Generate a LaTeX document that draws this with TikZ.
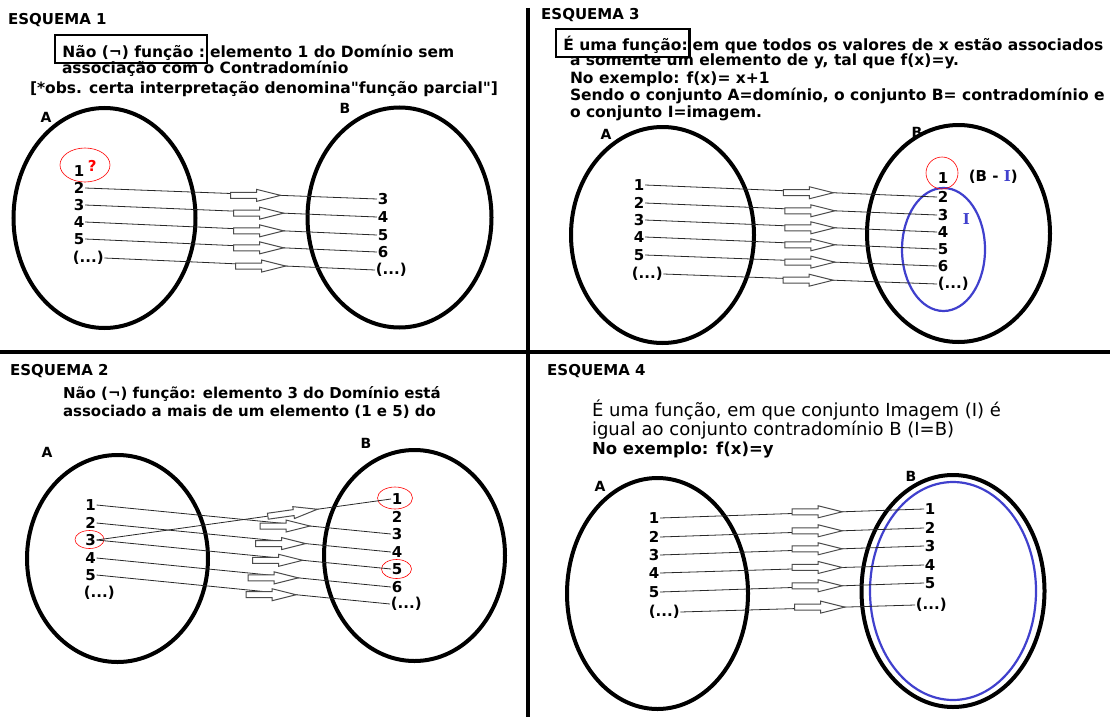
\documentclass[tikz,border=0pt]{standalone}
\usepackage{fontspec}
\setmainfont{DejaVu Sans}
\newfontfamily\vf{DejaVu Sans}
\newfontfamily\serifI{DejaVu Serif}
\usetikzlibrary{calc,shapes.geometric}
\definecolor{iblue}{RGB}{64,64,205}
\definecolor{lnc}{RGB}{40,40,40}
\tikzset{
  barrow/.pic={\draw[draw=black!70, fill=white, line width=1, line join=miter]
     (0,0) -- (-24,-6) -- (-24,-3) -- (-50,-3) -- (-50,3) -- (-24,3) -- (-24,6) -- cycle;}
}
\begin{document}
\begin{tikzpicture}[x=1pt,y=-1pt,
  txt/.style={font=\vf\fontsize{15.5}{17}\selectfont\bfseries, inner sep=0, outer sep=0, anchor=base west},
  txtb/.style={font=\vf\fontsize{15}{17}\selectfont\bfseries, inner sep=0, outer sep=0, anchor=base west},
  rtxt/.style={font=\vf\fontsize{18}{19}\selectfont, inner sep=0, outer sep=0, anchor=base west},
  txtc/.style={font=\vf\fontsize{16.5}{19}\selectfont\bfseries, inner sep=0, outer sep=0, anchor=base west},
  head/.style={font=\vf\fontsize{15}{16}\selectfont\bfseries, inner sep=0, anchor=base west},
  boxed/.style={txt, draw, line width=2.5, inner xsep=2, inner ysep=2.5, text height=19.5, text depth=3.5},
  lbl/.style={font=\vf\fontsize{15}{17}\selectfont\bfseries, inner sep=0.6, anchor=west},
  setname/.style={font=\vf\fontsize{14}{16}\selectfont\bfseries, inner sep=0},
  setell/.style={ellipse, draw, line width=4, inner sep=0},
  conn/.style={draw=lnc, line width=0.8},
  redmark/.style={ellipse, draw=red, line width=0.6, inner sep=0},
  blueset/.style={ellipse, draw=iblue, line width=2.2, inner sep=0},
  divider/.style={line width=4}
]
\useasboundingbox (0,0) rectangle (1110,717);
\fill[white] (0,0) rectangle (1110,717);

% dividers
\draw[divider] (528,8) -- (528,717);
\draw[divider] (0,352) -- (1110,352);

% ================= ESQUEMA 1 =================
\node[head] (q1h) at (8,25) {ESQUEMA 1};
\node[boxed] (q1box) at (55,57) {\ Não (¬) função :};
\node[txt] (q1t1) at ([xshift=3]q1box.base east) {elemento 1 do Domínio sem};
\node[txt] (q1t2) at (62,74) {associação com o Contradomínio};
\node[txt] (q1t3) at (30,93) {[*obs. certa interpretação denomina"função parcial"]};
\node[setname] (q1nA) at (46,117) {A};
\node[setname] (q1nB) at (345,108) {B};
\node[setell, minimum width=182, minimum height=220] (q1A) at (104.5,218) {};
\node[setell, minimum width=184, minimum height=220] (q1B) at (399.5,217.5) {};
\node[lbl] (q1a1) at (73,171) {1};
\node[lbl, text=red] (q1q) at (87,166) {?};
\node[redmark, minimum width=50, minimum height=34] (q1r) at (85,165) {};
\node[lbl] (q1a2) at (73,188) {2};
\node[lbl] (q1a3) at (73,205) {3};
\node[lbl] (q1a4) at (73,222) {4};
\node[lbl] (q1a5) at (73,239) {5};
\node[lbl] (q1a6) at (72,258) {(...)};
\node[lbl] (q1b1) at (377,199) {3};
\node[lbl] (q1b2) at (377,217) {4};
\node[lbl] (q1b3) at (377,235) {5};
\node[lbl] (q1b4) at (377,252) {6};
\node[lbl] (q1b5) at (375,270) {(...)};
\draw[conn] (q1a2.east) -- (q1b1.west);
\draw[conn] (q1a3.east) -- (q1b2.west);
\draw[conn] (q1a4.east) -- (q1b3.west);
\draw[conn] (q1a5.east) -- (q1b4.west);
\draw[conn] (q1a6.east) -- (q1b5.west);
\pic at ($(q1a2.east)!0.67!(q1b1.west)$) {barrow};
\pic at ($(q1a3.east)!0.68!(q1b2.west)$) {barrow};
\pic at ($(q1a4.east)!0.68!(q1b3.west)$) {barrow};
\pic at ($(q1a5.east)!0.68!(q1b4.west)$) {barrow};
\pic at ($(q1a6.east)!0.67!(q1b5.west)$) {barrow};

% ================= ESQUEMA 2 =================
\node[head] (q2h) at (10,375) {ESQUEMA 2};
\node[txtb] (q2t1) at (63,398) {Não (¬) função: elemento 3 do Domínio está};
\node[txtb] (q2t2) at (63,416) {associado a mais de um elemento (1 e 5) do};
\node[setname] (q2nA) at (47,452) {A};
\node[setname] (q2nB) at (366,443) {B};
\node[setell, minimum width=181, minimum height=207] (q2A) at (117.5,558.5) {};
\node[setell, minimum width=181, minimum height=211] (q2B) at (414.5,555.5) {};
\node[lbl] (q2a1) at (84.5,505) {1};
\node[lbl] (q2a2) at (84.5,523) {2};
\node[lbl] (q2a3) at (84.5,540) {3};
\node[lbl] (q2a4) at (84.5,558) {4};
\node[lbl] (q2a5) at (84.5,575) {5};
\node[lbl] (q2a6) at (83,593) {(...)};
\node[lbl] (q2b1) at (391,499) {1};
\node[lbl] (q2b2) at (391,517) {2};
\node[lbl] (q2b3) at (391,534) {3};
\node[lbl] (q2b4) at (391,552) {4};
\node[lbl] (q2b5) at (391,569) {5};
\node[lbl] (q2b6) at (391,587) {6};
\node[lbl] (q2b7) at (390,604) {(...)};
\node[redmark, minimum width=29, minimum height=18] (q2ra) at (89.5,539.5) {};
\node[redmark, minimum width=35, minimum height=22] (q2rb1) at (395,498) {};
\node[redmark, minimum width=30, minimum height=19] (q2rb5) at (396.5,569) {};
\draw[conn] (q2a1.east) -- (q2b3.west);
\draw[conn] (q2a2.east) -- (q2b4.west);
\draw[conn] (q2a3.east) -- (q2b1.west);
\draw[conn] (q2a3.east) -- (q2b5.west);
\draw[conn] (q2a4.east) -- (q2b6.west);
\draw[conn] (q2a5.east) -- (q2b7.west);
\pic[rotate=8] at ($(q2a3.east)!0.75!(q2b1.west)$) {barrow};
\pic at ($(q2a1.east)!0.725!(q2b3.west)$) {barrow};
\pic at ($(q2a2.east)!0.71!(q2b4.west)$) {barrow};
\pic at ($(q2a3.east)!0.70!(q2b5.west)$) {barrow};
\pic at ($(q2a4.east)!0.685!(q2b6.west)$) {barrow};
\pic at ($(q2a5.east)!0.68!(q2b7.west)$) {barrow};

% ================= ESQUEMA 3 =================
\node[head] (q3h) at (541,20) {ESQUEMA 3};
\node[boxed] (q3box) at (556,51) {\ É uma função:};
\node[txt] (q3t1) at ([xshift=3]q3box.base east) {em que todos os valores de x estão associados};
\node[txt] (q3t2) at (570,66) {a somente um elemento de y, tal que f(x)=y.};
\node[txt] (q3t3) at (570,83) {No exemplo: f(x)= x+1};
\node[txt] (q3t4) at (570,100) {Sendo o conjunto A=domínio, o conjunto B= contradomínio e};
\node[txt] (q3t5) at (570,117) {o conjunto I=imagem.};
\node[setname] (q3nA) at (606,134) {A};
\node[setname] (q3nB) at (917,132) {B};
\node[setell, minimum width=183, minimum height=216] (q3A) at (662.5,235) {};
\node[setell, minimum width=183, minimum height=217] (q3B) at (958.5,233.5) {};
\node[blueset, minimum width=83, minimum height=123] (q3I) at (943.5,249.5) {};
\node[lbl, text=iblue] (q3Il) at (962,219) {\serifI I};
\node[lbl] (q3a1) at (633,185) {1};
\node[lbl] (q3a2) at (633,203) {2};
\node[lbl] (q3a3) at (633,220) {3};
\node[lbl] (q3a4) at (633,237) {4};
\node[lbl] (q3a5) at (633,255) {5};
\node[lbl] (q3a6) at (631,274) {(...)};
\node[lbl] (q3b1) at (937,178) {1};
\node[circle, draw=red, line width=0.6, minimum size=32, inner sep=0] (q3r) at (942,173) {};
\node[lbl] (q3bi) at (968,177) {(B - {\color{iblue}\serifI I})};
\node[lbl] (q3b2) at (937,197) {2};
\node[lbl] (q3b3) at (937,215) {3};
\node[lbl] (q3b4) at (937,232) {4};
\node[lbl] (q3b5) at (937,249) {5};
\node[lbl] (q3b6) at (937,266) {6};
\node[lbl] (q3b7) at (937,284) {(...)};
\draw[conn] (q3a1.east) -- (q3b2.west);
\draw[conn] (q3a2.east) -- (q3b3.west);
\draw[conn] (q3a3.east) -- (q3b4.west);
\draw[conn] (q3a4.east) -- (q3b5.west);
\draw[conn] (q3a5.east) -- (q3b6.west);
\draw[conn] (q3a6.east) -- (q3b7.west);
\pic at ($(q3a1.east)!0.645!(q3b2.west)$) {barrow};
\pic at ($(q3a2.east)!0.65!(q3b3.west)$) {barrow};
\pic at ($(q3a3.east)!0.65!(q3b4.west)$) {barrow};
\pic at ($(q3a4.east)!0.65!(q3b5.west)$) {barrow};
\pic at ($(q3a5.east)!0.65!(q3b6.west)$) {barrow};
\pic at ($(q3a6.east)!0.62!(q3b7.west)$) {barrow};

% ================= ESQUEMA 4 =================
\node[head] (q4h) at (547,375) {ESQUEMA 4};
\node[rtxt] (q4t1) at (592,416) {É uma função, em que conjunto Imagem (I) é};
\node[rtxt] (q4t2) at (592,435) {igual ao conjunto contradomínio B (I=B)};
\node[txtc] (q4t3) at (592,454) {No exemplo: f(x)=y};
\node[setname] (q4nA) at (600,486) {A};
\node[setname] (q4nB) at (911,476) {B};
\node[setell, minimum width=181, minimum height=231] (q4A) at (657.5,593.5) {};
\node[setell, minimum width=183, minimum height=232] (q4B) at (953,591) {};
\node[blueset, minimum width=166, minimum height=218] (q4I) at (953,591) {};
\node[lbl] (q4a1) at (648,518) {1};
\node[lbl] (q4a2) at (648,537) {2};
\node[lbl] (q4a3) at (648,555) {3};
\node[lbl] (q4a4) at (648,573) {4};
\node[lbl] (q4a5) at (648,592) {5};
\node[lbl] (q4a6) at (648,612) {(...)};
\node[lbl] (q4b1) at (924,509) {1};
\node[lbl] (q4b2) at (924,528) {2};
\node[lbl] (q4b3) at (924,546) {3};
\node[lbl] (q4b4) at (924,565) {4};
\node[lbl] (q4b5) at (924,583) {5};
\node[lbl] (q4b6) at (915,605) {(...)};
\draw[conn] (q4a1.east) -- (q4b1.west);
\draw[conn] (q4a2.east) -- (q4b2.west);
\draw[conn] (q4a3.east) -- (q4b3.west);
\draw[conn] (q4a4.east) -- (q4b4.west);
\draw[conn] (q4a5.east) -- (q4b5.west);
\draw[conn] (q4a6.east) -- (q4b6.west);
\pic at ($(q4a1.east)!0.69!(q4b1.west)$) {barrow};
\pic at ($(q4a2.east)!0.69!(q4b2.west)$) {barrow};
\pic at ($(q4a3.east)!0.69!(q4b3.west)$) {barrow};
\pic at ($(q4a4.east)!0.69!(q4b4.west)$) {barrow};
\pic at ($(q4a5.east)!0.69!(q4b5.west)$) {barrow};
\pic at ($(q4a6.east)!0.70!(q4b6.west)$) {barrow};
\end{tikzpicture}
\end{document}
